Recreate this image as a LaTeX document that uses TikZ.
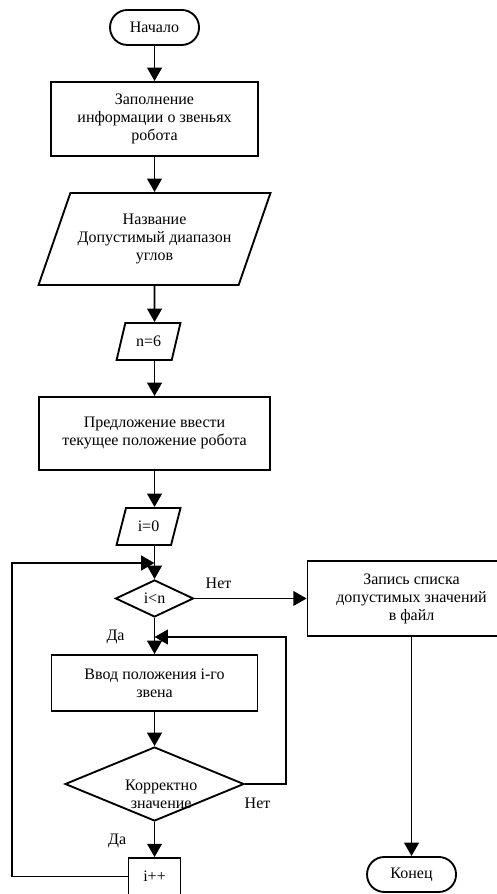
\documentclass[tikz,border=0pt]{standalone}
\usepackage{fontspec}
\setmainfont{Liberation Serif}
\usepackage{tikz}
\usetikzlibrary{shapes.geometric, arrows.meta}
\tikzstyle{startstop} = [rectangle, rounded corners=13pt, minimum width=66.75pt, minimum height=26.25pt, text centered, draw=black, line width=1.4pt]
\tikzstyle{io} = [trapezium, trapezium stretches=true, minimum width=48pt, minimum height=27.75pt, align=center, draw=black, line width=1.4pt]
\tikzstyle{process} = [rectangle, minimum width=155pt, minimum height=55.5pt, align=center, draw=black, line width=1.4pt]
\tikzstyle{decision} = [diamond, inner sep=0pt, align=center, draw=black, line width=1.4pt]
\tikzstyle{arrow} = [line width=1.4pt, -{Triangle[length=10pt, width=11pt]}]

\begin{document}
\begin{tikzpicture}[every node/.style={font=\rmfamily\fontsize{12}{13.5}\selectfont}]
\useasboundingbox (0,0) rectangle (372.75pt,-670.5pt);
\clip (0,0) rectangle (372.75pt,-670.5pt);
\node (start) [startstop] at (115.9pt,-20.6pt) {Начало};
\node (fill) [process, below of = start, node distance=68.6pt] {Заполнение\\информации о звеньях\\робота};
\node (name) [io, below of = fill, node distance=90pt, minimum width=174pt, minimum height=69pt, trapezium left angle=62.4, trapezium right angle=117.6] {Название\\Допустимый диапазон\\углов};
\node (nsix) [io, below of = name, node distance=76.9pt, xshift=-4.5pt, trapezium left angle=72, trapezium right angle=108] {n=6};
\node (offer) [process, below of = nsix, node distance=69pt, xshift=4.5pt, minimum width=173.25pt, minimum height=54.75pt] {Предложение ввести\\текущее положение робота};
\node (izero) [io, below of = offer, node distance=69.75pt, xshift=-4.5pt, trapezium left angle=72, trapezium right angle=108] {i=0};
\node (cond) [decision, below of = izero, node distance=54pt, xshift=4.5pt, minimum width=58.5pt, minimum height=27.75pt] {i<n};
\node (input) [process, below of = cond, node distance=63.4pt, minimum width=154.5pt, minimum height=42pt] {Ввод положения i-го\\звена};
\node (check) [decision, below of = input, node distance=75.75pt, minimum width=134.25pt, minimum height=55.5pt, label={[align=center, xshift=5pt, yshift=-7.5pt]center:Корректно\\значение}] {};
\node (inc) [process, below of = check, node distance=69.4pt, minimum width=39pt, minimum height=27.75pt] {i++};
\node (save) [process, right of = cond, node distance=192.75pt, minimum width=156pt, minimum height=56.25pt] {Запись списка\\допустимых значений\\в файл};
\node (stop) [startstop, below of = save, node distance=207pt] {Конец};
\node (condno) [right of = cond, node distance=48pt, yshift=11.6pt] {Нет};
\node (condyes) [below of = cond, node distance=28.9pt, xshift=-29.25pt] {Да};
\node (checkno) [right of = check, node distance=77.25pt, yshift=-14.25pt] {Нет};
\node (checkyes) [below of = check, node distance=42.75pt, xshift=-28pt] {Да};
\node (loopin) [coordinate, above of = cond, node distance=26.6pt] {};
\node (retin) [coordinate, below of = cond, node distance=28.9pt] {};
\draw [arrow] (start) -- (fill);
\draw [arrow] (fill) -- (name);
\draw [arrow] (name) -- (name |- nsix.north);
\draw [arrow] (offer |- nsix.south) -- (offer);
\draw [arrow] (offer) -- (offer |- izero.north);
\draw [arrow] (cond |- izero.south) -- (cond);
\draw [arrow] (cond) -- (input);
\draw [arrow] (input) -- (check);
\draw [arrow] (check) -- (inc);
\draw [arrow] (cond) -- (save);
\draw [arrow] (save) -- (stop);
\draw [arrow] (check.east) -- ++(30.75pt,0) |- (retin);
\draw [arrow] (inc.west) -- ++(-87pt,0) |- (loopin);
\end{tikzpicture}
\end{document}
